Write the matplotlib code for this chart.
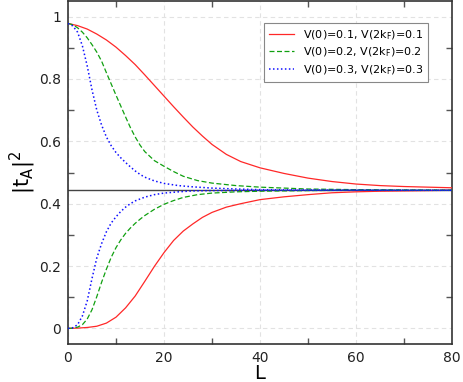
import matplotlib
matplotlib.use('Agg')
import matplotlib.pyplot as plt
from matplotlib.ticker import MultipleLocator

# values
limit_value = 0.443

# V(0)=0.1, V(2kF)=0.1  (red)
red_upper_L = [0, 2, 4, 6, 8, 10, 12, 14, 16, 18, 20, 22, 24, 26, 28, 30, 33, 36, 40,
               45, 50, 55, 60, 65, 70, 75, 80]
red_upper_t = [0.978, 0.971, 0.960, 0.944, 0.925, 0.902, 0.875, 0.846, 0.813, 0.779, 0.745,
               0.711, 0.678, 0.646, 0.617, 0.590, 0.558, 0.535, 0.515, 0.497, 0.482, 0.471,
               0.463, 0.458, 0.455, 0.453, 0.451]
red_lower_L = [0, 2, 4, 6, 8, 10, 12, 14, 16, 18, 20, 22, 24, 26, 28, 30, 33, 36, 40,
               45, 50, 55, 60, 65, 70, 75, 80]
red_lower_t = [0.000, 0.001, 0.003, 0.007, 0.017, 0.036, 0.066, 0.104, 0.151, 0.199, 0.243,
               0.282, 0.312, 0.335, 0.356, 0.372, 0.389, 0.400, 0.413, 0.422, 0.429, 0.435,
               0.438, 0.440, 0.441, 0.442, 0.443]

# V(0)=0.2, V(2kF)=0.2  (green)
green_upper_L = [0, 1, 2, 3, 4, 5, 6, 7, 8, 9, 10, 11, 12, 13, 14, 15, 16, 18, 20, 22, 24,
                 27, 30, 35, 40, 50, 60, 70, 80]
green_upper_t = [0.978, 0.974, 0.964, 0.950, 0.932, 0.910, 0.886, 0.857, 0.820, 0.784, 0.748,
                 0.713, 0.678, 0.644, 0.614, 0.588, 0.567, 0.538, 0.520, 0.503, 0.488, 0.474,
                 0.466, 0.458, 0.453, 0.447, 0.445, 0.444, 0.443]
green_lower_L = [0, 1, 2, 3, 4, 5, 6, 7, 8, 9, 10, 11, 12, 13, 14, 15, 16, 18, 20, 22, 24,
                 27, 30, 35, 40, 50, 60, 80]
green_lower_t = [0.000, 0.001, 0.004, 0.012, 0.030, 0.060, 0.102, 0.148, 0.190, 0.228, 0.259,
                 0.284, 0.305, 0.322, 0.337, 0.350, 0.362, 0.382, 0.398, 0.410, 0.420, 0.429,
                 0.434, 0.438, 0.440, 0.442, 0.443, 0.443]

# V(0)=0.3, V(2kF)=0.3  (blue)
blue_upper_L = [0, 1, 2, 3, 4, 5, 6, 7, 8, 9, 10, 11, 12, 13, 14, 15, 16, 18, 20, 23, 26,
                30, 35, 40, 50, 80]
blue_upper_t = [0.978, 0.970, 0.950, 0.906, 0.842, 0.765, 0.700, 0.652, 0.614, 0.586, 0.564,
                0.547, 0.532, 0.518, 0.505, 0.494, 0.485, 0.473, 0.465, 0.458, 0.454, 0.450,
                0.447, 0.445, 0.444, 0.443]
blue_lower_L = [0, 1, 2, 3, 4, 5, 6, 7, 8, 9, 10, 11, 12, 13, 14, 16, 18, 20, 23, 26, 30,
                40, 80]
blue_lower_t = [0.000, 0.002, 0.012, 0.040, 0.088, 0.160, 0.226, 0.272, 0.310, 0.338, 0.358,
                0.375, 0.389, 0.400, 0.409, 0.421, 0.429, 0.434, 0.438, 0.441, 0.442, 0.443,
                0.443]

labels = ['V(0)=0.1, V(2k$_\\mathregular{F}$)=0.1',
          'V(0)=0.2, V(2k$_\\mathregular{F}$)=0.2',
          'V(0)=0.3, V(2k$_\\mathregular{F}$)=0.3']

fig = plt.figure(figsize=(4.63, 3.82), dpi=100)
ax = fig.add_axes([68 / 463, 38 / 382, 384 / 463, 343 / 382])

# horizontal limit line
ax.axhline(limit_value, color='#444444', lw=1.0, zorder=2)

ax.plot(red_upper_L, red_upper_t, color='#ff2828', lw=0.9, label=labels[0], zorder=3)
ax.plot(red_lower_L, red_lower_t, color='#ff2828', lw=0.9, zorder=3)
ax.plot(green_upper_L, green_upper_t, color='#10a010', lw=0.9, ls=(0, (4, 2)),
        label=labels[1], zorder=3)
ax.plot(green_lower_L, green_lower_t, color='#10a010', lw=0.9, ls=(0, (4, 2)), zorder=3)
ax.plot(blue_upper_L, blue_upper_t, color='#1010ff', lw=1.1, ls=(0, (1, 1.6)),
        label=labels[2], zorder=3)
ax.plot(blue_lower_L, blue_lower_t, color='#1010ff', lw=1.1, ls=(0, (1, 1.6)), zorder=3)

ax.set_xlim(0, 80)
ax.set_ylim(-0.05, 1.05)
ax.xaxis.set_minor_locator(MultipleLocator(10))
ax.yaxis.set_minor_locator(MultipleLocator(0.1))
ax.set_xticks([0, 20, 40, 60, 80], ['0', '20', '40', '60', '80'])
ax.set_yticks([0, 0.2, 0.4, 0.6, 0.8, 1.0], ['0', '0.2', '0.4', '0.6', '0.8', '1'])

# only the in-between ticks show in the reference
ax.tick_params(which='major', length=0, labelsize=10, pad=5, colors='#222222')
ax.tick_params(which='minor', direction='in', length=4, width=1, color='#555555')
ax.tick_params(which='both', top=True, right=True)

ax.grid(True, which='major', color='#e2e2e2', ls=(0, (4, 3)), lw=0.8)
ax.set_axisbelow(True)
for s in ax.spines.values():
    s.set_color('#333333')
    s.set_linewidth(1.2)

ax.set_xlabel('L', fontsize=14)
ax.xaxis.set_label_coords(0.5, -0.058)
ax.set_ylabel('$\\mathregular{|t_A|^2}$', fontsize=15, labelpad=1)

leg = ax.legend(loc='upper right', bbox_to_anchor=(0.9375, 0.936), borderaxespad=0,
                fontsize=8, fancybox=False, framealpha=1, edgecolor='#888888',
                handlelength=2.2, borderpad=0.45, labelspacing=0.35, handletextpad=0.8)
leg.get_frame().set_linewidth(0.8)

plt.savefig('out.png', dpi=100)
